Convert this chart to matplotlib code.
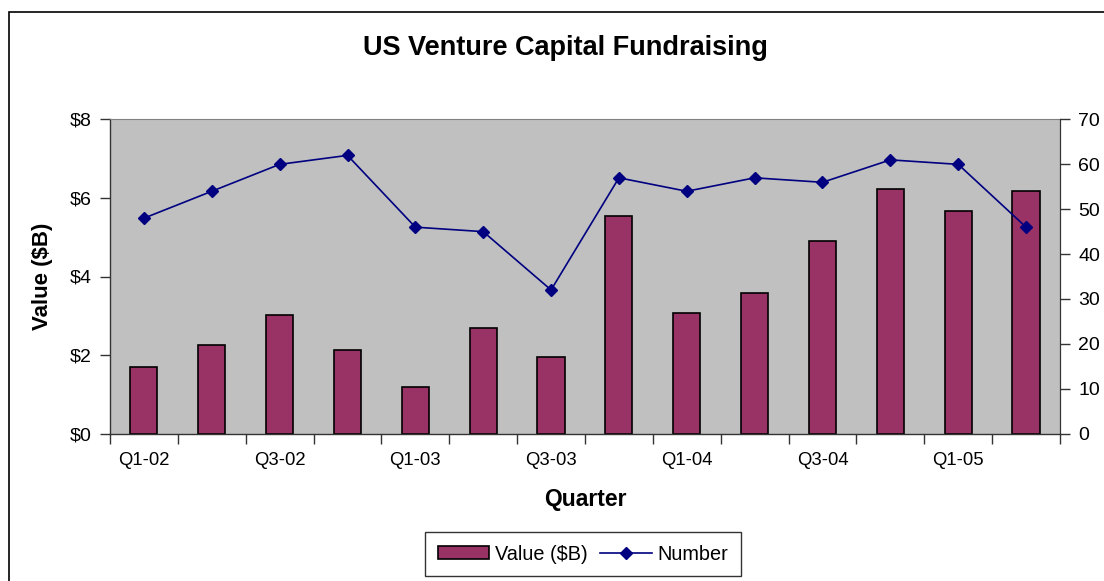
import matplotlib
matplotlib.use("Agg")
import matplotlib.pyplot as plt
from matplotlib.patches import Rectangle
from matplotlib.ticker import FixedLocator, FuncFormatter
import numpy as np

plt.rcParams['font.family'] = ['Liberation Sans', 'DejaVu Sans']

quarters = ["Q1-02", "Q2-02", "Q3-02", "Q4-02", "Q1-03", "Q2-03", "Q3-03", "Q4-03",
            "Q1-04", "Q2-04", "Q3-04", "Q4-04", "Q1-05", "Q2-05"]
value_b = [1.70, 2.25, 3.03, 2.12, 1.19, 2.68, 1.95, 5.54, 3.06, 3.57, 4.90, 6.22, 5.67, 6.17]
number = [48, 54, 60, 62, 46, 45, 32, 57, 54, 57, 56, 61, 60, 46]
left_ticks = [0, 2, 4, 6, 8]
right_ticks = [0, 10, 20, 30, 40, 50, 60, 70]

W, H = 1104, 581
fig = plt.figure(figsize=(W / 100, H / 100), dpi=100)
fig.patch.set_facecolor('white')
# outer chart border
fig.add_artist(Rectangle((9 / W, -0.05), 1.2, (H - 12) / H + 0.05, transform=fig.transFigure,
                         fill=False, edgecolor='black', linewidth=1.2))

ax = fig.add_axes([110 / W, (H - 433.5) / H, 950 / W, 314 / H])
ax.set_facecolor('#C0C0C0')
x = np.arange(len(quarters))
ax.bar(x, value_b, width=0.4, color='#993366', edgecolor='black', linewidth=1.2,
       label='Value ($B)', zorder=2)
ax.set_xlim(-0.5, len(quarters) - 0.5)
ax.set_ylim(0, 8)
ax.set_yticks(left_ticks)
ax.yaxis.set_major_formatter(FuncFormatter(lambda v, p: f"${v:.0f}"))
ax.xaxis.set_major_locator(FixedLocator(np.arange(-0.5, len(quarters), 1)))
ax.xaxis.set_major_formatter(FuncFormatter(lambda v, p: ""))
ax.set_xticks(x[::2], minor=True)
ax.set_xticklabels(quarters[::2], minor=True)
ax.tick_params(axis='x', which='major', direction='out', length=7, width=1, color='#333333')
ax.tick_params(axis='x', which='minor', length=0, pad=13, labelsize=13.3)
ax.tick_params(axis='y', direction='out', length=7, width=1, color='#333333', labelsize=14, pad=6)

for s in ['left', 'bottom']:
    ax.spines[s].set_color('#333333')
    ax.spines[s].set_linewidth(1)
ax.spines['top'].set_color('#808080')
ax.spines['right'].set_color('#333333')

ax.set_xlabel('Quarter', fontsize=16.5, fontweight='bold', labelpad=14)
ax.set_ylabel('Value ($B)', fontsize=16, fontweight='bold', labelpad=12)

ax2 = ax.twinx()
ax2.plot(x, number, color='#000080', linewidth=1.2, marker='D', markersize=6.5,
         markerfacecolor='#000080', markeredgecolor='#000080', label='Number', zorder=3)
ax2.set_ylim(0, 70)
ax2.set_yticks(right_ticks)
ax2.tick_params(axis='y', direction='out', length=7, width=1, color='#333333', labelsize=14, pad=6)
for s in ['left', 'bottom', 'top']:
    ax2.spines[s].set_visible(False)
ax2.spines['right'].set_color('#333333')

fig.text(0.512, (H - 48) / H, 'US Venture Capital Fundraising', ha='center', va='center',
         fontsize=19.5, fontweight='bold')

h1, l1 = ax.get_legend_handles_labels()
h2, l2 = ax2.get_legend_handles_labels()
leg = fig.legend(h1 + h2, l1 + l2, loc='center', bbox_to_anchor=(583 / W, (H - 554) / H),
                 ncol=2, frameon=True, fancybox=False, fontsize=14.3, handlelength=2.6,
                 handleheight=0.6, handletextpad=0.3, columnspacing=0.6, borderpad=0.65)
leg.get_frame().set_edgecolor('black')
leg.get_frame().set_linewidth(1)

fig.savefig('out.png', dpi=100)
